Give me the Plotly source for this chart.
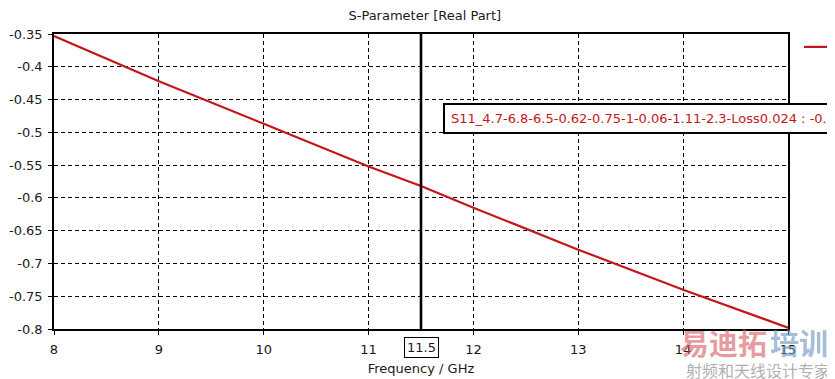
import plotly.graph_objects as go

# ---- data ----
freq_ghz = [8, 9, 10, 11, 11.5, 12, 13, 14, 15]
s11_real = [-0.353, -0.422, -0.487, -0.552, -0.582, -0.615, -0.679, -0.740, -0.798]
trace_name = "S11_4.7-6.8-6.5-0.62-0.75-1-0.06-1.11-2.3-Loss0.024"
marker_freq = 11.5
marker_value_text = "-0.582"

x_tick_vals = [8, 9, 10, 11, 12, 13, 14, 15]
x_tick_text = ["8", "9", "10", "11", "12", "13", "14", "15"]
y_tick_vals = [-0.35, -0.4, -0.45, -0.5, -0.55, -0.6, -0.65, -0.7, -0.75, -0.8]
y_tick_text = ["-0.35", "-0.4", "-0.45", "-0.5", "-0.55", "-0.6", "-0.65", "-0.7", "-0.75", "-0.8"]

title_text = "S-Parameter [Real Part]"
x_title = "Frequency / GHz"
watermark_big_a = "易迪拓"
watermark_big_b = "培训"
watermark_small = "射频和天线设计专家"

FONT = "DejaVu Sans"
RED = "#c4161c"
TXT = "#1a1a1a"

fig = go.Figure()
fig.add_trace(go.Scatter(
    x=freq_ghz, y=s11_real, mode="lines", name=trace_name,
    line=dict(color=RED, width=2.2),
))

axis_common = dict(
    showline=True, linecolor="black", linewidth=1.5, mirror=True,
    showgrid=True, gridcolor="black", gridwidth=1, griddash="4px,3px",
    ticks="outside", ticklen=4, tickcolor="black", tickwidth=1,
    zeroline=False, tickfont=dict(family=FONT, size=13, color=TXT),
    automargin=False,
)

fig.update_xaxes(range=[8, 15], tickvals=x_tick_vals, ticktext=x_tick_text,
                 ticklabelstandoff=4,
                 title=dict(text=x_title, font=dict(family=FONT, size=13, color=TXT), standoff=8),
                 **axis_common)
fig.update_yaxes(range=[-0.8, -0.35], tickvals=y_tick_vals, ticktext=y_tick_text,
                 ticklabelstandoff=3, **axis_common)

# marker line
fig.add_shape(type="line", xref="x", yref="paper", x0=marker_freq, x1=marker_freq,
              y0=0, y1=1, line=dict(color="black", width=2.6))
# marker x label box
fig.add_annotation(xref="x", yref="paper", x=marker_freq, y=-0.064, yanchor="middle",
                   text=str(marker_freq), showarrow=False,
                   font=dict(family=FONT, size=13, color=TXT),
                   bordercolor="black", borderwidth=1, borderpad=2, bgcolor="white")
# marker value box
fig.add_annotation(xref="paper", yref="paper", x=0.53, y=0.715, xanchor="left", yanchor="middle",
                   text=trace_name + " : " + marker_value_text, showarrow=False,
                   font=dict(family=FONT, size=13, color=RED),
                   bordercolor="black", borderwidth=2, borderpad=6, bgcolor="white")

# watermark
fig.add_annotation(xref="paper", yref="paper", x=0.85, y=-0.044, xanchor="left", yanchor="middle",
                   text="<b>" + watermark_big_a + "</b>", showarrow=False,
                   font=dict(family="Noto Sans CJK SC", size=29, color="rgba(215,90,95,0.6)"))
fig.add_annotation(xref="paper", yref="paper", x=0.973, y=-0.044, xanchor="left", yanchor="middle",
                   text="<b>" + watermark_big_b + "</b>", showarrow=False,
                   font=dict(family="Noto Sans CJK SC", size=29, color="rgba(110,150,195,0.65)"))
fig.add_annotation(xref="paper", yref="paper", x=0.858, y=-0.139, xanchor="left", yanchor="middle",
                   text=watermark_small, showarrow=False,
                   font=dict(family="Noto Sans CJK SC", size=16, color="rgba(130,130,130,0.65)"))

# page body has an 8px margin, so the figure is 8px smaller and margins shifted
fig.update_layout(
    width=827, height=371,
    margin=dict(l=46, r=47, t=26, b=50, autoexpand=False),
    paper_bgcolor="white", plot_bgcolor="white",
    title=dict(text=title_text, x=0.504, xanchor="center", y=1 - 7 / 371, yanchor="middle",
               font=dict(family=FONT, size=13, color=TXT)),
    showlegend=True,
    legend=dict(x=1.015, y=1.007, xanchor="left", yanchor="top",
                font=dict(family=FONT, size=13, color=TXT), bgcolor="rgba(0,0,0,0)"),
    font=dict(family=FONT),
)

fig.write_html("out.html")
